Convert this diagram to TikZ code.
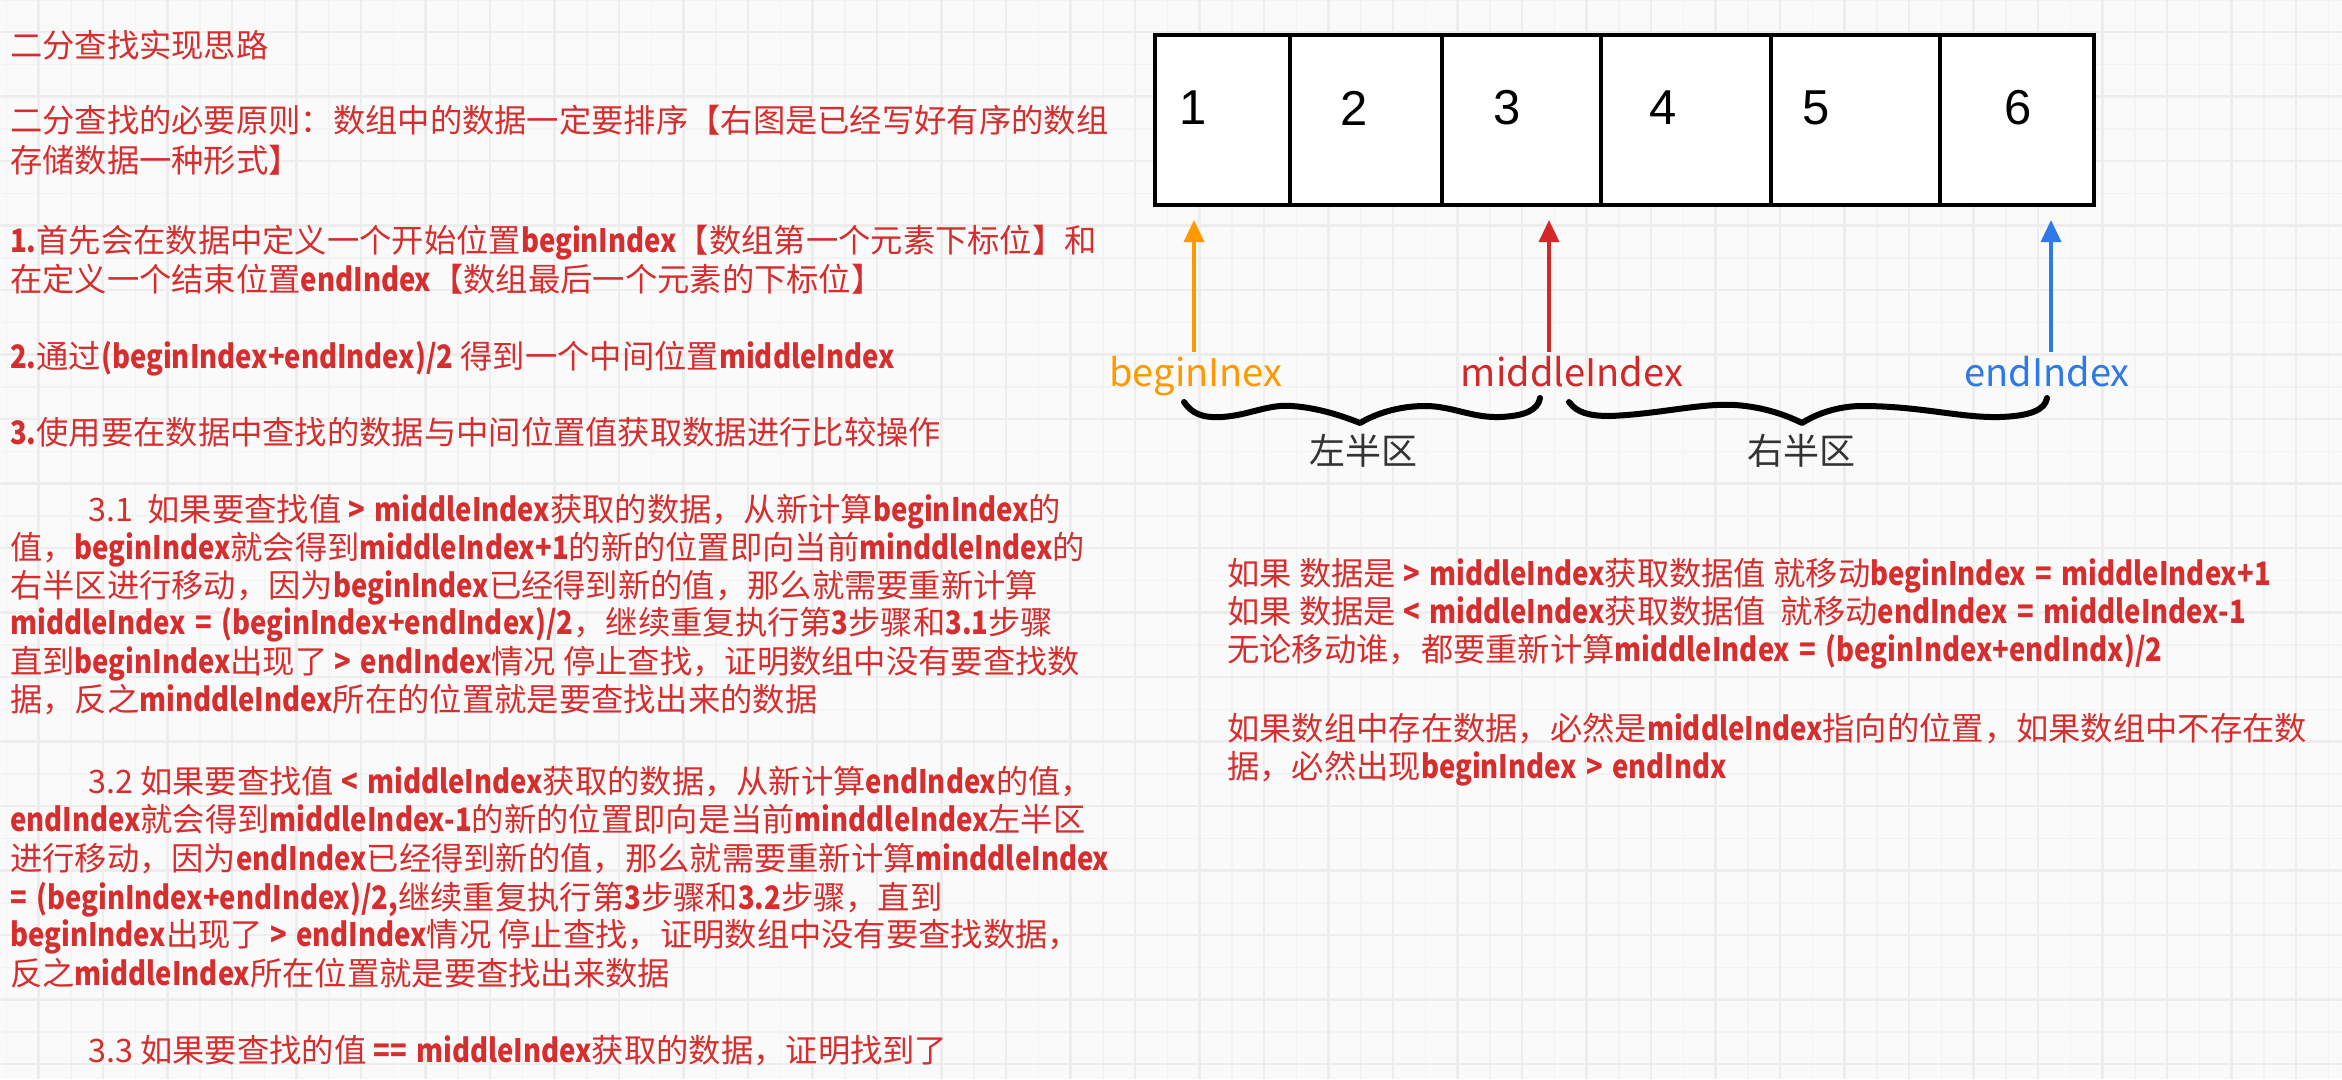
\documentclass[tikz,border=0pt]{standalone}
\usepackage{fontspec}
\setmainfont{Noto Sans CJK SC}
\newfontfamily\latb{Noto Sans CJK SC}[FakeStretch=0.85, WordSpace=1.5]
\newfontfamily\digitfont{Liberation Sans}
\usetikzlibrary{arrows.meta}
\definecolor{bgc}{RGB}{250,250,250}
\definecolor{gridminor}{RGB}{243,243,243}
\definecolor{gridmajor}{RGB}{237,237,237}
\definecolor{txtred}{RGB}{214,46,46}
\definecolor{ptrorange}{RGB}{255,153,0}
\definecolor{ptrred}{RGB}{212,40,40}
\definecolor{ptrblue}{RGB}{45,122,230}
\newcommand{\bq}[1]{{\latb\bfseries #1}}
\tikzset{
  txtline/.style={anchor=base west, inner sep=0pt, text=txtred, font=\fontsize{32.3}{40}\selectfont},
  cellbox/.style={draw=black, line width=4pt, fill=white, anchor=north west, inner sep=0pt},
  digit/.style={inner sep=0pt, font=\digitfont\fontsize{49}{55}\selectfont},
  ptr/.style={line width=3.5pt, -{Triangle[length=22pt,width=20pt]}},
  ptrlabel/.style={anchor=base, inner sep=0pt, font=\fontsize{38}{44}\selectfont},
  bracestroke/.style={line width=6pt, line cap=round, line join=round, black},
  halflabel/.style={inner sep=0pt, text=black!80, font=\fontsize{36}{40}\selectfont}
}
\begin{document}
\begin{tikzpicture}[x=1pt,y=-1pt]
\fill[bgc] (0,0) rectangle (2342,1079);
\useasboundingbox (0,0) rectangle (2342,1079);
% grid
\foreach \x in {6.25,70.75,...,2342} \draw[gridminor, line width=1.5pt] (\x,0) -- (\x,1079);
\foreach \y in {-0.25,64.25,...,1079} \draw[gridminor, line width=1.5pt] (0,\y) -- (2342,\y);
\foreach \x in {38.5,103,...,2342} \draw[gridmajor, line width=2.5pt] (\x,0) -- (\x,1079);
\foreach \y in {32,96.5,...,1079} \draw[gridmajor, line width=2.5pt] (0,\y) -- (2342,\y);

% left text
\node[txtline] (t0) at (10,57) {二分查找实现思路};
\node[txtline] (t1) at (10,132) {二分查找的必要原则：数组中的数据一定要排序【右图是已经写好有序的数组};
\node[txtline] (t2) at (10,172) {存储数据一种形式】};
\node[txtline] (t3) at (10,252) {\bq{1.}首先会在数据中定义一个开始位置\bq{beginIndex}【数组第一个元素下标位】和};
\node[txtline] (t4) at (10,291) {在定义一个结束位置\bq{endIndex}【数组最后一个元素的下标位】};
\node[txtline] (t5) at (10,368) {\bq{2.}通过\bq{(beginIndex+endIndex)/2} 得到一个中间位置\bq{middleIndex}};
\node[txtline] (t6) at (10,444) {\bq{3.}使用要在数据中查找的数据与中间位置值获取数据进行比较操作};
\node[txtline] (t7) at (88,521) {3.1\ \ 如果要查找值 \bq{> middleIndex}获取的数据，从新计算\bq{beginIndex}的};
\node[txtline] (t8) at (10,559) {值，\bq{beginIndex}就会得到\bq{middleIndex+1}的新的位置即向当前\bq{minddleIndex}的};
\node[txtline] (t9) at (10,597) {右半区进行移动，因为\bq{beginIndex}已经得到新的值，那么就需要重新计算};
\node[txtline] (t10) at (10,634) {\bq{middleIndex = (beginIndex+endIndex)/2}，继续重复执行第\bq{3}步骤和\bq{3.1}步骤};
\node[txtline] (t11) at (10,673) {直到\bq{beginIndex}出现了 \bq{> endIndex}情况 停止查找，证明数组中没有要查找数};
\node[txtline] (t12) at (10,711) {据，反之\bq{minddleIndex}所在的位置就是要查找出来的数据};
\node[txtline] (t13) at (88,793) {3.2 如果要查找值 \bq{< middleIndex}获取的数据，从新计算\bq{endIndex}的值，};
\node[txtline] (t14) at (10,831) {\bq{endIndex}就会得到\bq{middleIndex-1}的新的位置即向是当前\bq{minddleIndex}左半区};
\node[txtline] (t15) at (10,870) {进行移动，因为\bq{endIndex}已经得到新的值，那么就需要重新计算\bq{minddleIndex}};
\node[txtline] (t16) at (10,909) {\bq{= (beginIndex+endIndex)/2,}继续重复执行第\bq{3}步骤和\bq{3.2}步骤，直到};
\node[txtline] (t17) at (10,946) {\bq{beginIndex}出现了 \bq{> endIndex}情况 停止查找，证明数组中没有要查找数据，};
\node[txtline] (t18) at (10,985) {反之\bq{middleIndex}所在位置就是要查找出来数据};
\node[txtline] (t19) at (88,1062) {3.3 如果要查找的值 \bq{== middleIndex}获取的数据，证明找到了};

% array cells
\node[cellbox, minimum width=135pt, minimum height=170pt] (c1) at (1153,33) {};
\node[cellbox, minimum width=152pt, minimum height=170pt] (c2) at (1288,33) {};
\node[cellbox, minimum width=159pt, minimum height=170pt] (c3) at (1440,33) {};
\node[cellbox, minimum width=170pt, minimum height=170pt] (c4) at (1599,33) {};
\node[cellbox, minimum width=169pt, minimum height=170pt] (c5) at (1769,33) {};
\node[cellbox, minimum width=154pt, minimum height=170pt] (c6) at (1938,33) {};
\node[digit] (d1) at (1193,108) {1};
\node[digit] (d2) at (1354,108) {2};
\node[digit] (d3) at (1507,108) {3};
\node[digit] (d4) at (1663,108) {4};
\node[digit] (d5) at (1816,108) {5};
\node[digit] (d6) at (2018,108) {6};

% pointer labels
\node[ptrlabel, text=ptrorange] (lb) at (1196,386) {beginInex};
\node[ptrlabel, text=ptrred] (lm) at (1572,386) {middleIndex};
\node[ptrlabel, text=ptrblue] (le) at (2047,386) {endIndex};

% pointer arrows
\coordinate (bfrom) at (1194,352);
\coordinate (bto) at (1194,220);
\coordinate (mfrom) at (1549,352);
\coordinate (mto) at (1549,220);
\coordinate (efrom) at (2051,352);
\coordinate (eto) at (2051,220);
\draw[ptr, ptrorange] (bfrom) -- (bto);
\draw[ptr, ptrred] (mfrom) -- (mto);
\draw[ptr, ptrblue] (efrom) -- (eto);

% braces
\draw[bracestroke] (1184,402) .. controls (1192,414) and (1203,418) .. (1222,417)
  .. controls (1250,415) and (1268,404) .. (1292,406)
  .. controls (1320,408) and (1345,417) .. (1360,423)
  .. controls (1375,414) and (1398,406) .. (1425,406)
  .. controls (1452,406) and (1472,418) .. (1500,417)
  .. controls (1525,416) and (1538,410) .. (1540,398);
\draw[bracestroke] (1569,402) .. controls (1577,413) and (1590,416) .. (1610,416)
  .. controls (1660,414) and (1700,403) .. (1735,405)
  .. controls (1765,407) and (1788,416) .. (1802,423)
  .. controls (1816,414) and (1838,406) .. (1862,406)
  .. controls (1920,406) and (1960,418) .. (2000,417)
  .. controls (2030,416) and (2045,410) .. (2047,398);
\node[halflabel] (hl) at (1363,451) {左半区};
\node[halflabel] (hr) at (1801,451) {右半区};

% right text
\node[txtline] (r1) at (1227,585) {如果 数据是 \bq{> middleIndex}获取数据值 就移动\bq{beginIndex = middleIndex+1}};
\node[txtline] (r2) at (1227,623) {如果 数据是 \bq{< middleIndex}获取数据值\ \ 就移动\bq{endIndex = middleIndex-1}};
\node[txtline] (r3) at (1227,661) {无论移动谁，都要重新计算\bq{middleIndex = (beginIndex+endIndx)/2}};
\node[txtline] (r4) at (1227,740) {如果数组中存在数据，必然是\bq{middleIndex}指向的位置，如果数组中不存在数};
\node[txtline] (r5) at (1227,778) {据，必然出现\bq{beginIndex > endIndx}};
\end{tikzpicture}
\end{document}
